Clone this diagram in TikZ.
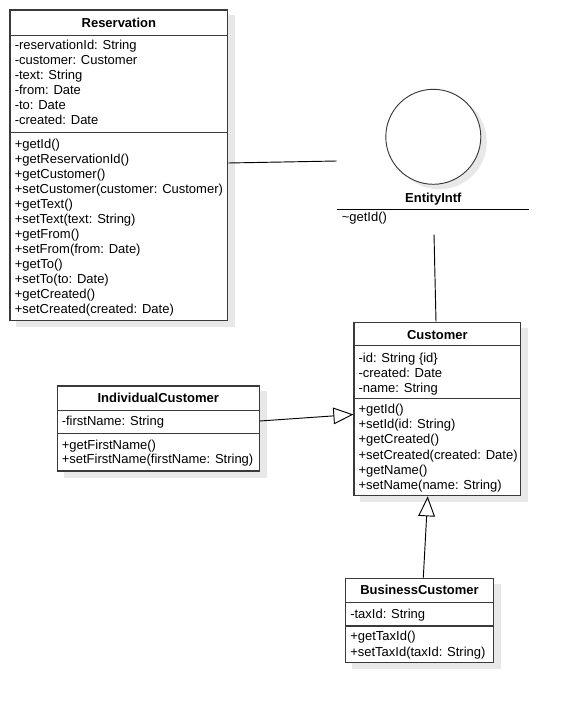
\documentclass[tikz,border=0pt]{standalone}
\usepackage{fontspec}
\setmainfont{Liberation Sans}
\usetikzlibrary{arrows.meta,fit,backgrounds}

\definecolor{boxline}{HTML}{3A3A3A}
\definecolor{shade}{HTML}{E8E8E8}

\tikzset{
  classbox/.style={draw=boxline, line width=0.95pt, fill=white, inner sep=0pt},
  sect/.style={draw=boxline, line width=0.95pt},
  member/.style={anchor=base west, inner sep=0pt, font=\fontsize{9.75}{11}\selectfont},
  classname/.style={anchor=base, inner sep=0pt, font=\fontsize{9.75}{11}\selectfont\bfseries},
  link/.style={draw=black, line width=0.7pt},
  inherit/.style={link, -{Triangle[open, length=15pt, width=12.5pt]}},
  lollipop/.style={circle, draw=boxline, line width=0.7pt, fill=white, inner sep=0pt,
    minimum size=71.25pt},
  shadowfill/.style={fill=shade, draw=none},
}

% one line per member: prefix, x, first baseline, line pitch, entries
\newcommand\memberlist[5]{%
  \foreach \txt [count=\k] in {#5}
    \node[member] (#1\k) at (#2, {#3+#4*(\k-1)}) {\txt};%
}
% soft offset shadow behind a class box
\newcommand\boxshadow[1]{%
  \fill[shadowfill] ([shift={(7,6)}]#1.north west) rectangle ([shift={(7,6)}]#1.south east);%
}

\begin{document}
\begin{tikzpicture}[x=0.75pt, y=-0.75pt]
\useasboundingbox (0,0) rectangle (569,703);

% ---------------- Reservation ----------------
\node[classbox, fit={(10,10)(227.7,320.7)}] (res) {};
\draw[sect] (res.west |- 0,35.7) -- (res.east |- 0,35.7);
\draw[sect] (res.west |- 0,132.7) -- (res.east |- 0,132.7);
\node[classname] (res-name) at (res.north |- 0,27) {Reservation};
\memberlist{res-a}{14.5}{49.3}{15}{{-reservationId: String},{-customer: Customer},{-text: String},{-from: Date},{-to: Date},{-created: Date}}
\memberlist{res-m}{14.5}{148.3}{15}{{+getId()},{+getReservationId()},{+getCustomer()},{+setCustomer(customer: Customer)},{+getText()},{+setText(text: String)},{+getFrom()},{+setFrom(from: Date)},{+getTo()},{+setTo(to: Date)},{+getCreated()},{+setCreated(created: Date)}}

% ---------------- EntityIntf (interface, lollipop form) ----------------
\node[inner sep=0pt, fit={(337,89)(529,234)}] (intf) {};
\node[lollipop] (intf-icon) at (433.3,136.8) {};
\node[classname] (intf-name) at (intf-icon.south |- 0,202.6) {EntityIntf};
\draw[link] (intf.west |- 0,209.3) -- (intf.east |- 0,209.3);
\node[member] (intf-m1) at (341.5,221) {\textasciitilde getId()};

% ---------------- Customer ----------------
\node[classbox, fit={(354,322.3)(520.7,495.7)}] (cust) {};
\draw[sect] (cust.west |- 0,345.5) -- (cust.east |- 0,345.5);
\draw[sect] (cust.west |- 0,398.3) -- (cust.east |- 0,398.3);
\node[classname] (cust-name) at (cust.north |- 0,339.3) {Customer};
\memberlist{cust-a}{358.3}{362}{15}{{-id: String \{id\}},{-created: Date},{-name: String}}
\memberlist{cust-m}{358.3}{413.5}{15.2}{{+getId()},{+setId(id: String)},{+getCreated()},{+setCreated(created: Date)},{+getName()},{+setName(name: String)}}

% ---------------- IndividualCustomer ----------------
\node[classbox, fit={(57.3,386)(259.3,471)}] (ind) {};
\draw[sect] (ind.west |- 0,410.5) -- (ind.east |- 0,410.5);
\draw[sect] (ind.west |- 0,433.7) -- (ind.east |- 0,433.7);
\node[classname] (ind-name) at (ind.north |- 0,402.6) {IndividualCustomer};
\memberlist{ind-a}{61.5}{425.5}{15}{{-firstName: String}}
\memberlist{ind-m}{61.5}{449}{14.5}{{+getFirstName()},{+setFirstName(firstName: String)}}

% ---------------- BusinessCustomer ----------------
\node[classbox, fit={(345.7,578.3)(493.3,662.7)}] (bus) {};
\draw[sect] (bus.west |- 0,602.3) -- (bus.east |- 0,602.3);
\draw[sect] (bus.west |- 0,626) -- (bus.east |- 0,626);
\node[classname] (bus-name) at (bus.north |- 0,594.5) {BusinessCustomer};
\memberlist{bus-a}{350}{618}{15}{{-taxId: String}}
\memberlist{bus-m}{350}{640.5}{15.5}{{+getTaxId()},{+setTaxId(taxId: String)}}

% ---------------- shadows and page background ----------------
\begin{scope}[on background layer]
  \fill[white] (0,0) rectangle (569,703);
  \boxshadow{res}
  \boxshadow{cust}
  \boxshadow{ind}
  \boxshadow{bus}
  \fill[shadowfill] ([shift={(6,5)}]intf-icon.center) circle[radius=47.5];
\end{scope}

% ---------------- relations ----------------
\draw[link] (res.east |- 0,163) -- (intf.west |- 0,161);
\draw[link] (intf.south -| 434,0) -- (cust.north -| 436,0);
\draw[inherit] (ind.east |- 0,421) -- (cust.west |- 0,414.5);
\draw[inherit] (bus.north -| 423.3,0) -- (cust.south -| 427.7,0);
\end{tikzpicture}
\end{document}
